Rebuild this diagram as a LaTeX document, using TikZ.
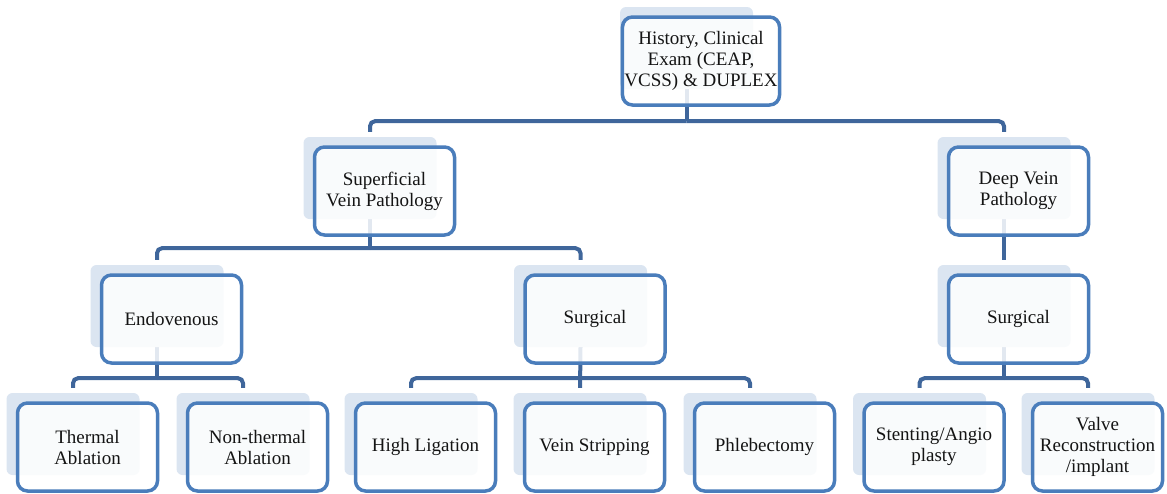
\documentclass[tikz,border=0pt]{standalone}
\usepackage{fontspec}
\setmainfont{Liberation Serif}
\usetikzlibrary{backgrounds}

\begin{document}
\begin{tikzpicture}[x=1pt, y=-1pt,
    every node/.style={font=\fontsize{19}{21}\selectfont},
    backbox/.style={fill=shadeblue, rounded corners=6pt, minimum width=133pt, minimum height=82pt, inner sep=0pt},
    topbox/.style={draw=boxblue, line width=3.5pt, fill=white, fill opacity=0.85, text opacity=1,
      rounded corners=10pt, minimum width=140pt, minimum height=88pt, inner sep=2pt, align=center, text=black!92},
    link/.style={draw=linkblue, line width=4pt, rounded corners=5pt}]
  \definecolor{shadeblue}{RGB}{219,229,241}
  \definecolor{boxblue}{RGB}{74,125,187}
  \definecolor{linkblue}{RGB}{63,102,155}
  \useasboundingbox (0,0) rectangle (1167,493);
  \clip (0,0) rectangle (1167,493);

  % top
  \node[backbox] (root-s) at (686.5,48) {};
  \node[topbox] (root) at ([shift={(14.5,13)}]root-s) {History, Clinical\\Exam (CEAP,\\VCSS) \& DUPLEX};

  % level 1
  \node[backbox] (sup-s) at (370,178) {};
  \node[topbox] (sup) at ([shift={(14.5,13)}]sup-s) {Superficial\\Vein Pathology};
  \node[backbox] (deep-s) at (1004,178) {};
  \node[topbox] (deep) at ([shift={(14.5,13)}]deep-s) {Deep Vein\\Pathology};

  % level 2
  \node[backbox] (endo-s) at (157,306) {};
  \node[topbox] (endo) at ([shift={(14.5,13)}]endo-s) {Endovenous};
  \node[backbox] (surg-s) at (580.5,306) {};
  \node[topbox] (surg) at ([shift={(14.5,13)}]surg-s) {Surgical};
  \node[backbox] (dsurg-s) at (1004,306) {};
  \node[topbox] (dsurg) at ([shift={(14.5,13)}]dsurg-s) {Surgical};

  % level 3
  \node[backbox] (therm-s) at (73,434) {};
  \node[topbox] (therm) at ([shift={(14.5,13)}]therm-s) {Thermal\\Ablation};
  \node[backbox] (nonth-s) at (243,434) {};
  \node[topbox] (nonth) at ([shift={(14.5,13)}]nonth-s) {Non-thermal\\Ablation};
  \node[backbox] (ligat-s) at (411,434) {};
  \node[topbox] (ligat) at ([shift={(14.5,13)}]ligat-s) {High Ligation};
  \node[backbox] (strip-s) at (580,434) {};
  \node[topbox] (strip) at ([shift={(14.5,13)}]strip-s) {Vein Stripping};
  \node[backbox] (phleb-s) at (750,434) {};
  \node[topbox] (phleb) at ([shift={(14.5,13)}]phleb-s) {Phlebectomy};
  \node[backbox] (stent-s) at (919.5,434) {};
  \node[topbox] (stent) at ([shift={(14.5,13)}]stent-s) {Stenting/Angio\\plasty};
  \node[backbox] (valve-s) at (1088,434) {};
  \node[topbox, minimum width=130pt] (valve) at ([shift={(9.5,13)}]valve-s) {Valve\\Reconstruction\\/implant};

  % connectors
  \begin{scope}[on background layer]
    \coordinate (j0) at ([yshift=-32pt]root-s.south);
    \coordinate (j1) at ([yshift=-29pt]sup-s.south);
    \coordinate (j2) at ([yshift=-31pt]endo-s.south);
    \coordinate (j3) at ([yshift=-31pt]surg-s.south);
    \coordinate (j4) at ([yshift=-31pt]dsurg-s.south);
    \draw[link] (root-s.south) -- (j0);
    \draw[link, shorten >=5pt] (j0) -| (sup-s.north);
    \draw[link, shorten >=5pt] (j0) -| (deep-s.north);
    \draw[link] (sup-s.south) -- (j1);
    \draw[link, shorten >=5pt] (j1) -| (endo-s.north);
    \draw[link, shorten >=5pt] (j1) -| (surg-s.north);
    \draw[link, shorten >=5pt] (deep-s.south) -- (dsurg-s.north);
    \draw[link] (endo-s.south) -- (j2);
    \draw[link, shorten >=5pt] (j2) -| (therm-s.north);
    \draw[link, shorten >=5pt] (j2) -| (nonth-s.north);
    \draw[link, shorten >=5pt] (surg-s.south) -- (strip-s.north);
    \draw[link, shorten >=5pt] (j3) -| (ligat-s.north);
    \draw[link, shorten >=5pt] (j3) -| (phleb-s.north);
    \draw[link] (dsurg-s.south) -- (j4);
    \draw[link, shorten >=5pt] (j4) -| (stent-s.north);
    \draw[link, shorten >=5pt] (j4) -| (valve-s.north);
  \end{scope}
\end{tikzpicture}
\end{document}
